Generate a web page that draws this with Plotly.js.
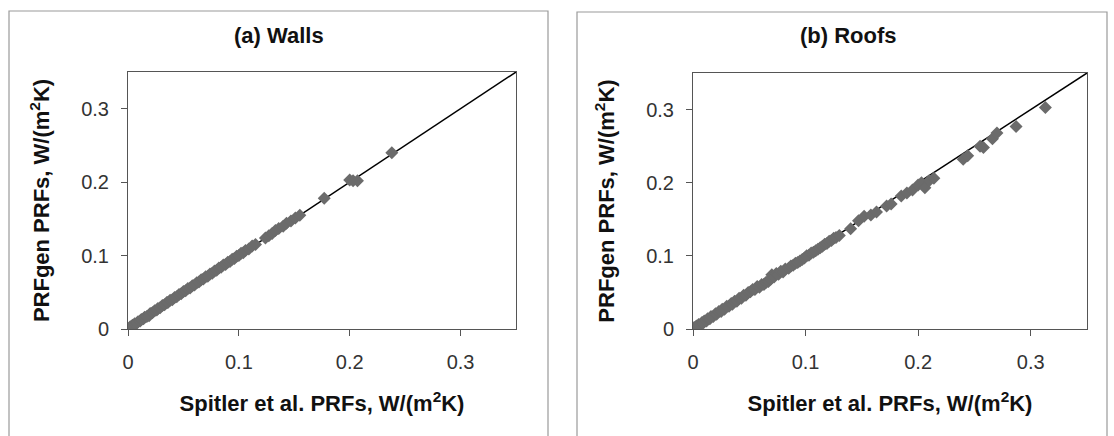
<!DOCTYPE html>
<html>
<head>
<meta charset="utf-8">
<script src="https://cdn.plot.ly/plotly-3.0.1.min.js"></script>
<style>html,body{margin:0;padding:0;background:#fff;}#chart{width:1114px;height:436px;}</style>
</head>
<body>
<div id="chart"></div>
<script>
// (a) Walls: Spitler et al. PRFs (x) vs PRFgen PRFs (y), W/(m2K)
const wallsSpitler = [0,0.001,0.002,0.003,0.004,0.005,0.006,0.008,0.009,0.011,0.012,0.014,0.015,0.017,0.019,0.020,0.022,0.024,0.026,0.027,0.029,0.031,0.033,0.035,0.036,0.038,0.040,0.042,0.044,0.046,0.048,0.050,0.052,0.054,0.056,0.058,0.060,0.062,0.064,0.066,0.068,0.070,0.072,0.074,0.076,0.078,0.080,0.082,0.084,0.086,0.088,0.090,0.092,0.094,0.096,0.098,0.100,0.102,0.104,0.106,0.109,0.112,0.115,0.124,0.127,0.130,0.133,0.136,0.140,0.143,0.147,0.151,0.155,0.177,0.200,0.203,0.207,0.238];
const wallsPRFgen  = [0,0.001,0.003,0.002,0.005,0.004,0.007,0.008,0.010,0.011,0.013,0.014,0.016,0.017,0.018,0.021,0.022,0.025,0.026,0.028,0.029,0.032,0.033,0.036,0.036,0.039,0.040,0.043,0.044,0.047,0.048,0.051,0.052,0.055,0.056,0.059,0.060,0.063,0.064,0.067,0.068,0.071,0.072,0.075,0.076,0.079,0.080,0.083,0.084,0.087,0.088,0.091,0.092,0.095,0.096,0.099,0.100,0.103,0.104,0.107,0.109,0.113,0.115,0.124,0.127,0.130,0.134,0.137,0.140,0.144,0.147,0.151,0.155,0.178,0.203,0.202,0.202,0.240];

// (b) Roofs
const roofsSpitler = [0,0.001,0.002,0.003,0.004,0.005,0.006,0.008,0.009,0.010,0.012,0.013,0.015,0.016,0.018,0.020,0.021,0.023,0.025,0.026,0.028,0.030,0.032,0.034,0.035,0.037,0.039,0.041,0.043,0.045,0.047,0.049,0.051,0.053,0.055,0.057,0.059,0.061,0.063,0.065,0.067,0.069,0.070,0.072,0.074,0.076,0.078,0.080,0.082,0.085,0.087,0.089,0.091,0.093,0.095,0.097,0.099,0.101,0.103,0.105,0.107,0.109,0.111,0.113,0.115,0.117,0.119,0.121,0.123,0.125,0.127,0.130,0.140,0.147,0.152,0.158,0.163,0.172,0.176,0.185,0.190,0.195,0.200,0.203,0.206,0.210,0.214,0.240,0.244,0.255,0.258,0.266,0.270,0.287,0.313];
const roofsPRFgen  = [0,0.002,0.001,0.004,0.003,0.006,0.005,0.009,0.008,0.011,0.011,0.014,0.014,0.017,0.017,0.021,0.020,0.024,0.024,0.027,0.027,0.031,0.031,0.035,0.034,0.038,0.038,0.042,0.042,0.046,0.046,0.050,0.051,0.054,0.054,0.058,0.057,0.061,0.061,0.064,0.065,0.068,0.074,0.071,0.076,0.075,0.079,0.078,0.082,0.083,0.086,0.087,0.090,0.091,0.093,0.095,0.097,0.100,0.101,0.104,0.105,0.107,0.109,0.111,0.113,0.116,0.117,0.120,0.121,0.124,0.125,0.128,0.137,0.148,0.154,0.156,0.160,0.168,0.171,0.182,0.186,0.190,0.197,0.200,0.193,0.203,0.206,0.232,0.237,0.250,0.248,0.260,0.268,0.277,0.303];

const refLine = [0, 0.35];
const tickVals = [0, 0.1, 0.2, 0.3];
const panelTitles = ['(a) Walls', '(b) Roofs'];
const xTitle = 'Spitler et al. PRFs, W/(m<sup>2</sup>K)';
const yTitle = 'PRFgen PRFs, W/(m<sup>2</sup>K)';

const W = 1114, H = 436;
const px = v => v / W;
const py = v => 1 - v / H;

const markerStyle = {symbol: 'diamond', size: 10, color: '#6b6b6b', line: {width: 0}};
const lineStyle = {color: '#000', width: 1.5};

const traces = [
  {x: refLine, y: refLine, xaxis: 'x', yaxis: 'y', mode: 'lines', line: lineStyle, hoverinfo: 'skip', showlegend: false},
  {x: wallsSpitler, y: wallsPRFgen, xaxis: 'x', yaxis: 'y', mode: 'markers', marker: markerStyle, showlegend: false, name: 'Walls'},
  {x: refLine, y: refLine, xaxis: 'x2', yaxis: 'y2', mode: 'lines', line: lineStyle, hoverinfo: 'skip', showlegend: false},
  {x: roofsSpitler, y: roofsPRFgen, xaxis: 'x2', yaxis: 'y2', mode: 'markers', marker: markerStyle, showlegend: false, name: 'Roofs'}
];

const font = {family: 'Liberation Sans, Arial, sans-serif', color: '#111'};
const titleFont = {family: font.family, size: 22, color: '#111', weight: 'bold'};
const tickFont = {family: font.family, size: 20, color: '#333'};

function xAxis(domain, anchor) {
  return {
    domain: domain, anchor: anchor, range: [0, 0.35], tickvals: tickVals,
    showgrid: false, zeroline: false, showline: true, mirror: true, linecolor: '#555', linewidth: 1,
    ticks: 'outside', ticklen: 6, tickcolor: '#555', ticklabelstandoff: 9,
    tickfont: tickFont,
    title: {text: xTitle, standoff: 23, font: titleFont},
    automargin: false, fixedrange: true
  };
}
function yAxis(domain, anchor) {
  return {
    domain: domain, anchor: anchor, range: [0, 0.35], tickvals: tickVals,
    showgrid: false, zeroline: false, showline: true, mirror: true, linecolor: '#555', linewidth: 1,
    ticks: 'outside', ticklen: 6, tickcolor: '#555', ticklabelstandoff: 8,
    tickfont: tickFont,
    title: {text: yTitle, standoff: 25, font: titleFont},
    automargin: false, fixedrange: true
  };
}

const layout = {
  width: W, height: H,
  margin: {l: 0, r: 0, t: 0, b: 0},
  paper_bgcolor: '#ffffff', plot_bgcolor: '#ffffff',
  font: font,
  showlegend: false,
  xaxis: xAxis([px(128), px(516)], 'y'),
  yaxis: yAxis([1 - 329 / H, 1 - 72 / H], 'x'),
  xaxis2: xAxis([px(693), px(1087)], 'y2'),
  yaxis2: yAxis([1 - 329 / H, 1 - 73 / H], 'x2'),
  shapes: [
    {type: 'rect', xref: 'paper', yref: 'paper', x0: px(9), x1: px(548), y0: py(440), y1: py(11), line: {color: '#9a9a9a', width: 1.2}, layer: 'below'},
    {type: 'rect', xref: 'paper', yref: 'paper', x0: px(577), x1: px(1107), y0: py(440), y1: py(12), line: {color: '#9a9a9a', width: 1.2}, layer: 'below'}
  ],
  annotations: [
    {text: panelTitles[0], xref: 'paper', yref: 'paper', x: px(279), y: py(36), xanchor: 'center', yanchor: 'middle', showarrow: false, font: titleFont},
    {text: panelTitles[1], xref: 'paper', yref: 'paper', x: px(848), y: py(36), xanchor: 'center', yanchor: 'middle', showarrow: false, font: titleFont}
  ]
};

Plotly.newPlot('chart', traces, layout, {staticPlot: true, displayModeBar: false});
</script>
</body>
</html>
